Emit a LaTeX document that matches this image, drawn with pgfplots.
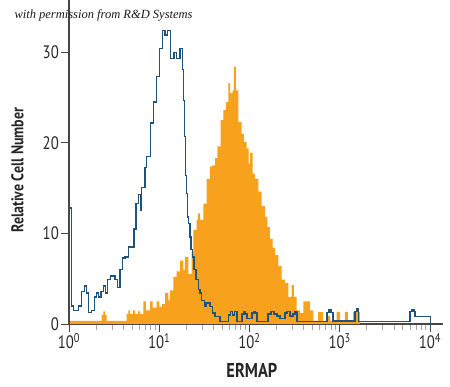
\documentclass[border=0pt]{standalone}
\usepackage{fontspec}
\usepackage{pgfplots}
\pgfplotsset{compat=1.18}
\setmainfont{PT Sans}
\newfontfamily\cond[FakeStretch=0.82]{PT Sans}
\newfontfamily\annot{Liberation Serif}
\newcommand{\tl}[1]{\mbox{\cond\fontsize{18}{18}\selectfont #1}}
\definecolor{historange}{RGB}{247,161,28}
\definecolor{histblue}{RGB}{32,82,122}
\definecolor{axgray}{RGB}{70,70,70}
\begin{document}
\begin{tikzpicture}
\path[use as bounding box] (-69pt,-63pt) rectangle (381pt,324pt);
\begin{axis}[
  scale only axis, width=374pt, height=324pt,
  at={(0pt,0pt)}, anchor=south west,
  xmin=0, xmax=4.144, ymin=0, ymax=35.77,
  axis lines*=left,
  axis line style={axgray, line width=1.3pt},
  xtick={0,1,2,3,4},
  xticklabels={\tl{10\textsuperscript{0}},\tl{10\textsuperscript{1}},\tl{10\textsuperscript{2}},\tl{10\textsuperscript{3}},\tl{10\textsuperscript{4}}},
  minor xtick={0.301,0.477,0.602,0.699,0.778,0.845,0.903,0.954,
               1.301,1.477,1.602,1.699,1.778,1.845,1.903,1.954,
               2.301,2.477,2.602,2.699,2.778,2.845,2.903,2.954,
               3.301,3.477,3.602,3.699,3.778,3.845,3.903,3.954},
  ytick={0,10,20,30},
  yticklabels={\tl{0},\tl{10},\tl{20},\tl{30}},
  tick align=outside,
  major tick length=8pt, minor tick length=6pt,
  major tick style={axgray, line width=0.9pt},
  minor tick style={gray!70, line width=0.9pt},
  tick label style={text=black!85},
  xticklabel style={inner sep=1pt},
  yticklabel style={inner sep=2pt},
  xlabel={ERMAP},
  ylabel={Relative Cell Number},
  xlabel style={font=\cond\bfseries\fontsize{20}{20}\selectfont, text=black!85,
                at={(axis description cs:0.489,-0.1445)}, anchor=center},
  ylabel style={font=\cond\bfseries\fontsize{17}{17}\selectfont, text=black!85,
                at={(axis description cs:-0.138,0.475)}, anchor=center},
]
\addplot[const plot, fill=historange, draw=none] coordinates {
(0,0.35) (0.362,1.0) (0.382,1.4) (0.399,1.0) (0.418,0.35) (0.639,1.1) (0.659,1.5) (0.676,1.1)
(0.709,1.5) (0.731,1.1) (0.765,1.4) (0.787,1.1) (0.823,2.5) (0.853,1.5) (0.898,2.5) (0.927,1.8)
(0.972,2.5) (1.001,1.9) (1.030,2.2) (1.064,3.4) (1.100,2.6) (1.119,3.7) (1.156,5.2) (1.193,5.8)
(1.230,7.0) (1.266,6.0) (1.285,7.4) (1.322,5.5) (1.360,8.0) (1.377,10.4) (1.415,11.5) (1.429,12.2)
(1.452,11.5) (1.488,13.3) (1.526,16.0) (1.562,17.4) (1.588,17.5) (1.618,18.3) (1.645,19.6) (1.681,22.5)
(1.710,23.6) (1.740,24.5) (1.765,26.6) (1.784,25.5) (1.814,25.8) (1.828,28.4) (1.850,25.8) (1.876,22.3)
(1.914,21.0) (1.939,20.1) (1.969,19.4) (1.989,17.7) (2.006,18.9) (2.035,16.6) (2.061,16.0) (2.098,14.6)
(2.135,13.0) (2.172,11.8) (2.199,10.7) (2.227,9.4) (2.255,8.4) (2.283,7.6) (2.319,6.4) (2.357,4.9)
(2.393,4.5) (2.430,3.0) (2.468,4.3) (2.493,3.0) (2.523,1.5) (2.560,1.2) (2.596,2.5) (2.670,1.5)
(2.707,0.35) (2.759,1.3) (2.814,0.35) (2.859,0.9) (2.892,0.35) (2.966,1.35) (3.003,0.35) (3.058,1.35)
(3.091,0.35) (3.147,1.3) (3.224,0)
} \closedcycle;
\addplot[const plot, histblue, line width=1.4pt] coordinates {
(0,0) (0,12.8) (0.030,2.0) (0.048,1.5) (0.103,2.0) (0.141,3.6) (0.170,4.2) (0.196,3.4) (0.214,1.3)
(0.252,1.5) (0.280,3.0) (0.307,3.4) (0.325,3.0) (0.355,3.6) (0.380,4.2) (0.407,3.4) (0.429,4.9)
(0.462,5.3) (0.510,4.9) (0.540,4.0) (0.565,6.0) (0.591,7.3) (0.620,7.4) (0.657,8.5) (0.720,10.5)
(0.742,13.3) (0.768,14.3) (0.792,12.5) (0.806,15.1) (0.842,17.3) (0.861,18.5) (0.905,22.2) (0.934,24.5)
(0.972,27.3) (1.001,30.4) (1.034,32.4) (1.064,31.9) (1.089,32.4) (1.127,29.3) (1.163,30.0) (1.193,29.3)
(1.230,30.4) (1.255,28.1) (1.266,24.7) (1.278,20.7) (1.292,16.4) (1.304,14.4) (1.313,11.8) (1.322,11.1)
(1.341,9.6) (1.352,8.2) (1.371,7.4) (1.385,6.0) (1.407,4.9) (1.433,3.8) (1.452,3.4) (1.470,2.6)
(1.499,1.9) (1.518,2.3) (1.543,2.4) (1.562,1.9) (1.592,1.2) (1.618,0.8) (1.673,0.25) (1.765,1.0)
(1.789,1.35) (1.812,1.0) (1.834,1.35) (1.861,0.3) (1.917,1.1) (1.939,1.35) (1.956,1.1) (1.972,0.6)
(2.028,1.2) (2.050,1.4) (2.066,1.2) (2.083,0.3) (2.205,1.1) (2.238,1.4) (2.271,1.1) (2.305,0.9)
(2.338,0.6) (2.393,1.2) (2.416,1.4) (2.449,0.9) (2.482,1.1) (2.504,1.4) (2.526,0.3) (2.859,1.3)
(2.881,1.6) (2.903,1.3) (2.925,0.35) (3.169,1.4) (3.191,1.7) (3.208,0.3) (3.778,1.35) (3.801,1.6)
(3.823,1.35) (3.834,0.8) (4.008,0.8) (4.008,0)
};
\end{axis}
\node[anchor=base west, font=\annot\itshape\fontsize{12.5}{12.5}\selectfont, text=black!90]
  at (-58pt,305pt) {with permission from R\&D Systems};
\end{tikzpicture}
\end{document}
